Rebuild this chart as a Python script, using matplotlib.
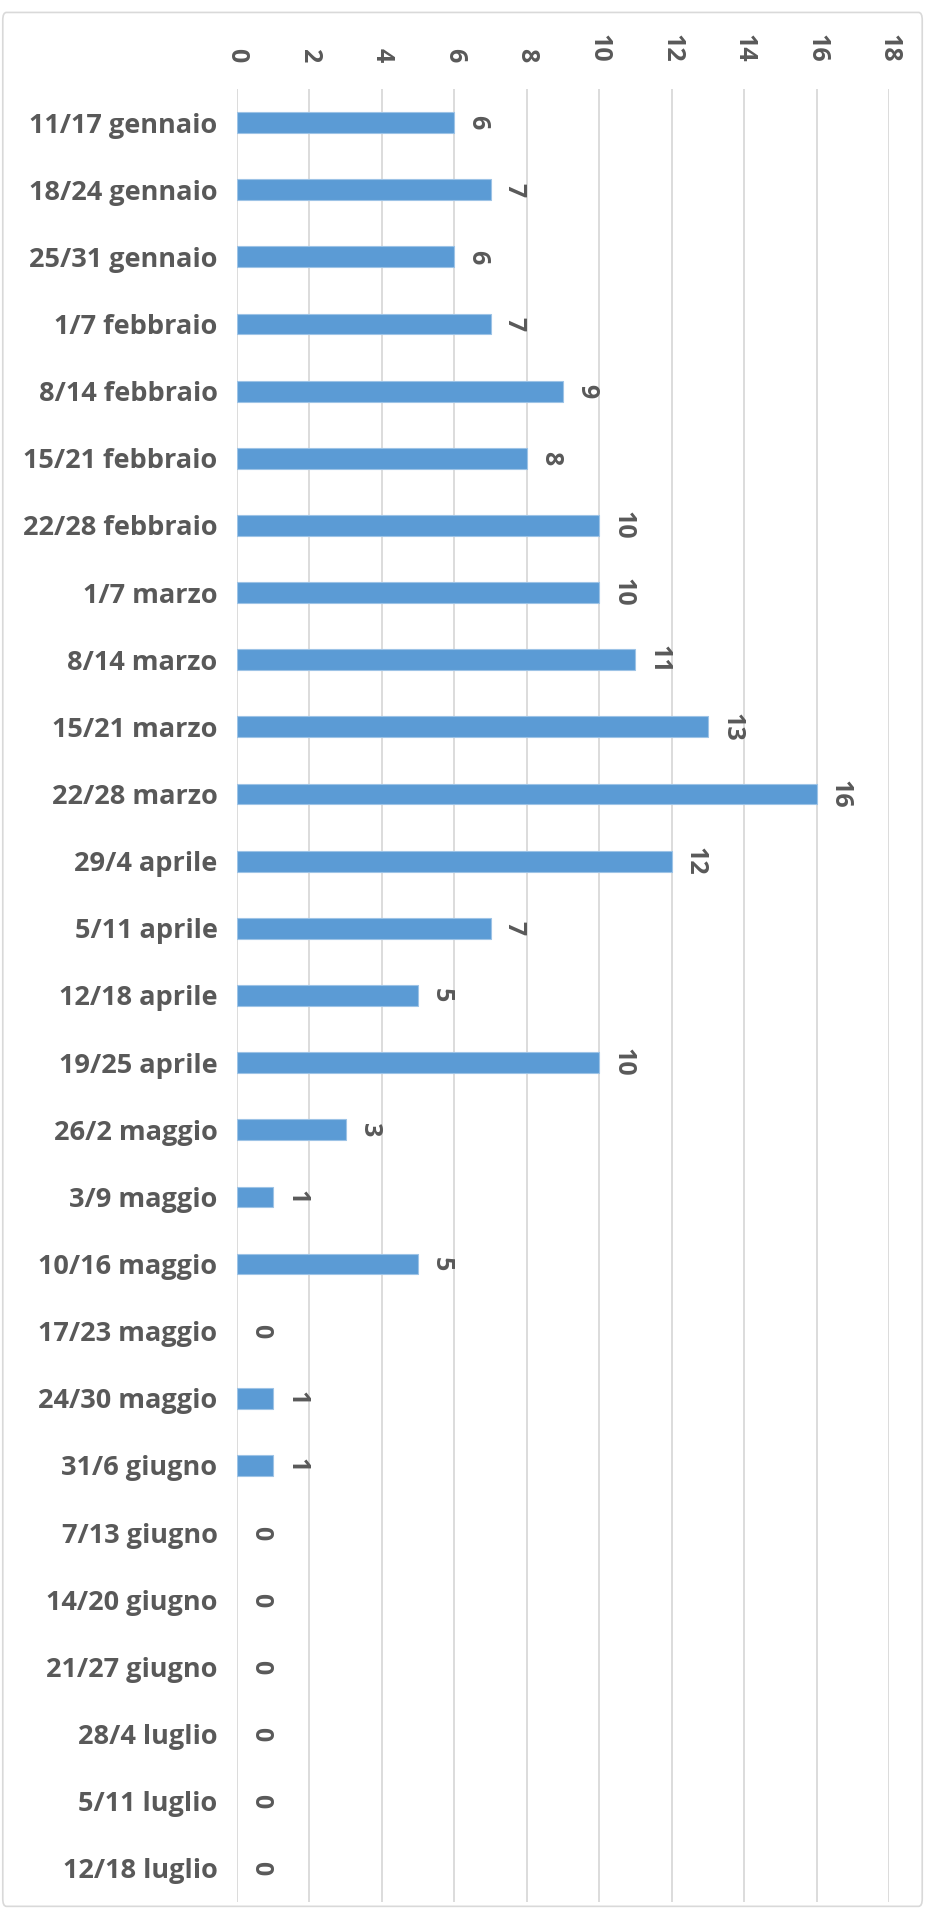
"""Weekly counts, horizontal bars with rotated value/tick labels (Excel-style)."""

import matplotlib

matplotlib.use("Agg")
import matplotlib.pyplot as plt
from matplotlib.patches import FancyBboxPatch

weeks = [
    "11/17 gennaio", "18/24 gennaio", "25/31 gennaio", "1/7 febbraio",
    "8/14 febbraio", "15/21 febbraio", "22/28 febbraio", "1/7 marzo",
    "8/14 marzo", "15/21 marzo", "22/28 marzo", "29/4 aprile",
    "5/11 aprile", "12/18 aprile", "19/25 aprile", "26/2 maggio",
    "3/9 maggio", "10/16 maggio", "17/23 maggio", "24/30 maggio",
    "31/6 giugno", "7/13 giugno", "14/20 giugno", "21/27 giugno",
    "28/4 luglio", "5/11 luglio", "12/18 luglio",
]
counts = [6, 7, 6, 7, 9, 8, 10, 10, 11, 13, 16, 12, 7, 5, 10, 3, 1, 5,
          0, 1, 1, 0, 0, 0, 0, 0, 0]
x_ticks = list(range(0, 19, 2))

TEXT = "#595959"
GRID = "#D9D9D9"
BAR = "#5B9BD5"

plt.rcParams["font.family"] = ["Open Sans", "DejaVu Sans"]

fig = plt.figure(figsize=(9.25, 19.14), dpi=100)
ax = fig.add_axes([0.2562, 0.0063, 0.7049, 0.9472])

ypos = list(range(len(weeks)))
bars = ax.barh(ypos, counts, height=0.31, color=BAR, edgecolor="#9DC3E6", linewidth=0.8, zorder=3)
for b, v in zip(bars, counts):
    if v == 0:
        b.set_linewidth(0)

for y, v in zip(ypos, counts):
    ax.annotate(str(v), (v, y), xytext=(17, 0), textcoords="offset points",
                ha="center", va="center", rotation=-90, fontsize=18,
                fontweight="bold", color=TEXT)

ax.set_xlim(0, 18)
ax.set_ylim(len(weeks) - 0.5, -0.5)
ax.set_xticks(x_ticks)
ax.xaxis.tick_top()
ax.set_xticklabels([str(t) for t in x_ticks], rotation=-90, fontsize=18,
                   fontweight="bold", color=TEXT)
ax.tick_params(axis="x", length=0, pad=19)
ax.set_yticks(ypos)
ax.set_yticklabels(weeks, fontsize=19.5, fontweight="bold", color=TEXT)
ax.tick_params(axis="y", length=0, pad=14)
ax.grid(axis="x", color=GRID, linewidth=1.3, zorder=0)
for s in ax.spines.values():
    s.set_visible(False)

# light chart-area frame
frame = FancyBboxPatch((0.003, 0.004), 0.994, 0.9895, boxstyle="round,pad=0,rounding_size=0.004",
                       transform=fig.transFigure, fill=False, edgecolor=GRID, linewidth=1.2)
fig.patches.append(frame)

fig.savefig("out.png", dpi=100)
plt.close(fig)
